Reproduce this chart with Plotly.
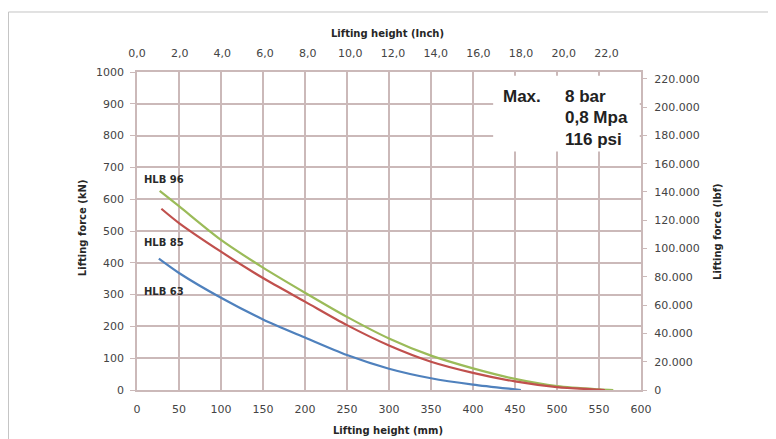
import plotly.graph_objects as go

# Data (lifting height in mm, lifting force in kN)
hlb96_mm = [27, 50, 100, 150, 200, 250, 300, 350, 400, 450, 500, 550, 567]
hlb96_kn = [626, 578, 472, 385, 306, 230, 162, 108, 68, 35, 12, 2, 0]

hlb85_mm = [29, 50, 100, 150, 200, 250, 300, 350, 400, 450, 500, 550, 557]
hlb85_kn = [570, 525, 435, 352, 278, 204, 140, 89, 54, 27, 9, 1, 0]

hlb63_mm = [26, 50, 100, 150, 200, 250, 300, 350, 400, 450, 457]
hlb63_kn = [413, 368, 290, 222, 165, 110, 67, 37, 17, 2, 0]

series_names = ["HLB 96", "HLB 85", "HLB 63"]
series_colors = ["#9bbb59", "#c0504d", "#4f81bd"]
label_pos_kn = [661, 463, 309]

MM_PER_INCH = 25.4
LBF_PER_KN = 224.809
X_MAX_MM = 600
Y_MAX_KN = 1000

grid_color = "#cbb9b9"
tick_font = dict(family="DejaVu Sans, sans-serif", size=11, color="#444444")
title_font = dict(family="DejaVu Sans, sans-serif", size=10, color="#262626")

fig = go.Figure()
for xs, ys, name, col in zip([hlb96_mm, hlb85_mm, hlb63_mm],
                             [hlb96_kn, hlb85_kn, hlb63_kn],
                             series_names, series_colors):
    fig.add_trace(go.Scatter(x=xs, y=ys, mode="lines", name=name,
                             line=dict(color=col, width=2.2, shape="spline", smoothing=0.8),
                             showlegend=False))

# invisible traces so the secondary axes are drawn
fig.add_trace(go.Scatter(x=[0], y=[0], xaxis="x2", yaxis="y", mode="markers",
                         marker=dict(opacity=0), showlegend=False, hoverinfo="skip"))
fig.add_trace(go.Scatter(x=[0], y=[0], xaxis="x", yaxis="y2", mode="markers",
                         marker=dict(opacity=0), showlegend=False, hoverinfo="skip"))

annotations = []
for name, ky in zip(series_names, label_pos_kn):
    annotations.append(dict(x=6, y=ky, xref="x", yref="y", text="<b>" + name + "</b>",
                            showarrow=False, xanchor="left", yanchor="middle",
                            font=dict(family="DejaVu Sans, sans-serif", size=10, color="#2a2a2a")))

box_font = dict(family="Liberation Sans, Arial, sans-serif", size=17, color="#222222")
annotations.append(dict(x=433, y=924, xref="x", yref="y", text="<b>Max.</b>", showarrow=False,
                        xanchor="left", yanchor="middle", font=box_font))
for txt, ky in zip(["8 bar", "0,8 Mpa", "116 psi"], [924, 857, 788]):
    annotations.append(dict(x=507, y=ky, xref="x", yref="y", text="<b>" + txt + "</b>",
                            showarrow=False, xanchor="left", yanchor="middle", font=box_font))

# axis titles placed as annotations (paper coords)
annotations += [
    dict(x=0.498, y=1.1226, xref="paper", yref="paper", text="<b>Lifting height (Inch)</b>",
         showarrow=False, xanchor="center", yanchor="middle", font=title_font),
    dict(x=0.498, y=-0.1258, xref="paper", yref="paper", text="<b>Lifting height (mm)</b>",
         showarrow=False, xanchor="center", yanchor="middle", font=title_font),
    dict(x=-0.1091, y=0.509, xref="paper", yref="paper", text="<b>Lifting force (kN)</b>",
         showarrow=False, xanchor="center", yanchor="middle", textangle=-90, font=title_font),
    dict(x=1.1528, y=0.497, xref="paper", yref="paper", text="<b>Lifting force (lbf)</b>",
         showarrow=False, xanchor="center", yanchor="middle", textangle=-90, font=title_font),
]

shapes = [
    # white panel behind the pressure note
    dict(type="rect", xref="x", yref="y", x0=424, x1=598.5, y0=750, y1=988,
         fillcolor="white", line=dict(width=0), layer="above"),
    # outer frame of the picture
    dict(type="rect", xref="paper", yref="paper", x0=-0.2550, x1=1.6, y0=-0.5, y1=1.1887,
         line=dict(color="#c4c4c4", width=1), fillcolor="rgba(0,0,0,0)", layer="below"),
]

# the page body adds an 8px offset, so the figure is shifted; margins compensate
fig.update_layout(
    width=768, height=431,
    margin=dict(l=129, r=135, t=64, b=49, autoexpand=False),
    paper_bgcolor="white", plot_bgcolor="white",
    separators=",.",
    xaxis=dict(range=[0, X_MAX_MM], dtick=50, tick0=0, showgrid=True, gridcolor=grid_color,
               gridwidth=1.5, showline=True, linecolor=grid_color, linewidth=1.5, mirror=True,
               zeroline=False, ticks="", tickfont=tick_font, ticklabelstandoff=8,
               automargin=False),
    xaxis2=dict(range=[0, X_MAX_MM / MM_PER_INCH], dtick=2, tick0=0, tickformat=".1f",
                overlaying="x", side="top", showgrid=False, zeroline=False, showline=False,
                ticks="", tickfont=tick_font, ticklabelstandoff=12, automargin=False),
    yaxis=dict(range=[0, Y_MAX_KN], dtick=100, tick0=0, tickformat="d", showgrid=True,
               gridcolor=grid_color, gridwidth=1.5, showline=True, linecolor=grid_color,
               linewidth=1.5, mirror=True, zeroline=False, ticks="outside", ticklen=5,
               tickcolor=grid_color, tickfont=tick_font, ticklabelstandoff=4, automargin=False),
    yaxis2=dict(range=[0, Y_MAX_KN * LBF_PER_KN], dtick=20000, tick0=0, tickformat=",.0f",
                overlaying="y", side="right", showgrid=False, zeroline=False, showline=False,
                ticks="outside", ticklen=5, tickcolor=grid_color, tickfont=tick_font,
                ticklabelstandoff=5, automargin=False),
    annotations=annotations,
    shapes=shapes,
)

fig.write_html("out.html")
